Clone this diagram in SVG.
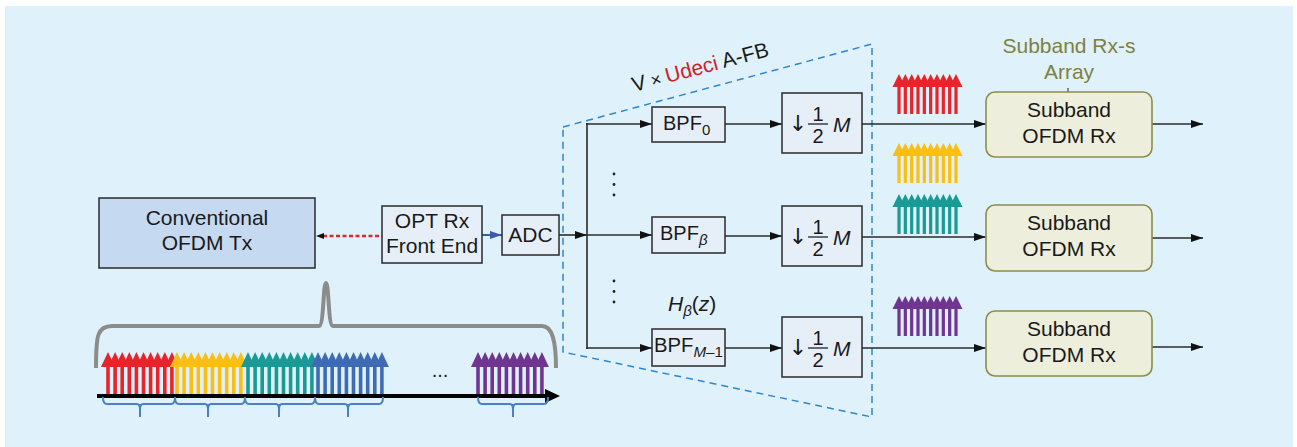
<svg xmlns="http://www.w3.org/2000/svg" xmlns:xlink="http://www.w3.org/1999/xlink" width="1297" height="447" viewBox="0 0 1297 447">
<style>
text{font-family:"Liberation Sans",Arial,sans-serif;fill:#1a1a1a}
.t{font-size:21px;text-anchor:middle}
.sub{font-size:15px}
.it{font-style:italic}
.dn{font-family:"DejaVu Sans",sans-serif;font-size:22px;text-anchor:middle}
.box{fill:#e6eff8;stroke:#2a2a2a;stroke-width:1.5}
.rx{fill:#eeeedc;stroke:#8c8c4c;stroke-width:1.6}
.ln{fill:none;stroke:#2a2a2a;stroke-width:1.6}
.ol{fill:#7f8040;font-size:21px;text-anchor:middle}
.br{fill:none;stroke:#4a80c8;stroke-width:2}
</style>
<defs>
<marker id="ah" markerUnits="userSpaceOnUse" markerWidth="12" markerHeight="8" refX="12" refY="4" orient="auto"><path d="M0,0 L12,4 L0,8 z" fill="#111"/></marker>
<marker id="ahb" markerUnits="userSpaceOnUse" markerWidth="12" markerHeight="8" refX="12" refY="4" orient="auto"><path d="M0,0 L12,4 L0,8 z" fill="#3a5dab"/></marker>
<g id="aR"><polygon points="-6.5,13 0,0 6.5,13"/><rect x="-1.6" y="11" width="3.2" height="29"/></g>
<g id="aL"><polygon points="-7,15 0,0 7,15"/><rect x="-1.8" y="13" width="3.6" height="31"/></g>
<g id="combR">
<use xlink:href="#aR" x="0"/><use xlink:href="#aR" x="6.33"/><use xlink:href="#aR" x="12.67"/><use xlink:href="#aR" x="19"/><use xlink:href="#aR" x="25.33"/><use xlink:href="#aR" x="31.67"/><use xlink:href="#aR" x="38"/><use xlink:href="#aR" x="44.33"/><use xlink:href="#aR" x="50.67"/><use xlink:href="#aR" x="57"/>
</g>
<g id="combL">
<use xlink:href="#aL" x="0"/><use xlink:href="#aL" x="7.1"/><use xlink:href="#aL" x="14.2"/><use xlink:href="#aL" x="21.3"/><use xlink:href="#aL" x="28.4"/><use xlink:href="#aL" x="35.5"/><use xlink:href="#aL" x="42.6"/><use xlink:href="#aL" x="49.7"/><use xlink:href="#aL" x="56.8"/><use xlink:href="#aL" x="63.9"/>
</g>
</defs>
<rect x="5" y="6" width="1288" height="441" fill="#dff2fb"/>

<!-- filter bank dashed outline -->
<g id="afb">
<path d="M563,127 L872,44 L872,417 L563,352 Z" fill="none" stroke="#2f86cc" stroke-width="1.5" stroke-dasharray="7,5"/>
<text x="634" y="92" font-size="21" transform="rotate(-14.9 634 92)">V<tspan font-size="18"> × </tspan><tspan fill="#d0202a">Udeci</tspan> A-FB</text>
</g>

<!-- connectors -->
<g id="connectors">
<line x1="323" y1="236" x2="382" y2="236" stroke="#e0262b" stroke-width="2.5" stroke-dasharray="4,2.5"/>
<polygon points="316,236 324,233 324,239" fill="#111"/>
<line x1="482" y1="235" x2="502" y2="235" stroke="#3a5dab" stroke-width="2" marker-end="url(#ahb)"/>
<line class="ln" x1="559" y1="235" x2="587" y2="235" marker-end="url(#ah)"/>
<line class="ln" x1="587" y1="235" x2="652" y2="235" marker-end="url(#ah)"/>
<line class="ln" x1="587" y1="123" x2="587" y2="349"/>
<line class="ln" x1="586" y1="124" x2="652" y2="124" marker-end="url(#ah)"/>
<line class="ln" x1="586" y1="348" x2="652" y2="348" marker-end="url(#ah)"/>
<line class="ln" x1="725" y1="124" x2="782" y2="124" marker-end="url(#ah)"/>
<line class="ln" x1="725" y1="236" x2="782" y2="236" marker-end="url(#ah)"/>
<line class="ln" x1="725" y1="348" x2="782" y2="348" marker-end="url(#ah)"/>
<line class="ln" x1="862" y1="124" x2="986" y2="124" marker-end="url(#ah)"/>
<line class="ln" x1="862" y1="237" x2="986" y2="237" marker-end="url(#ah)"/>
<line class="ln" x1="862" y1="348" x2="986" y2="348" marker-end="url(#ah)"/>
<line class="ln" x1="1152" y1="124" x2="1203" y2="124" marker-end="url(#ah)"/>
<line class="ln" x1="1152" y1="238" x2="1203" y2="238" marker-end="url(#ah)"/>
<line class="ln" x1="1152" y1="347" x2="1203" y2="347" marker-end="url(#ah)"/>
<line x1="1068" y1="88" x2="1068" y2="92" stroke="#222" stroke-width="1"/>
</g>

<g id="tx">
<rect x="99" y="198" width="216" height="70" fill="#c5d9f0" stroke="#2a2a2a" stroke-width="1.5"/>
<text class="t" x="207" y="225">Conventional</text>
<text class="t" x="207" y="250">OFDM Tx</text>
</g>
<g id="optrx">
<rect class="box" x="382" y="206" width="100" height="57"/>
<text class="t" x="432" y="228">OPT Rx</text>
<text class="t" x="432" y="253">Front End</text>
</g>
<g id="adc">
<rect class="box" x="502" y="215" width="57" height="40"/>
<text class="t" x="530.5" y="242">ADC</text>
</g>

<g id="bpf0">
<rect class="box" x="652" y="107" width="73" height="35"/>
<text x="663" y="130" font-size="20">BPF<tspan class="sub" dy="5">0</tspan></text>
</g>
<g id="bpfb">
<rect class="box" x="652" y="217" width="73" height="36"/>
<text x="660" y="240" font-size="20">BPF<tspan class="sub it" dy="5">β</tspan></text>
</g>
<g id="bpfm">
<rect class="box" x="652" y="329" width="73" height="37"/>
<text x="654" y="352" font-size="20" textLength="69" lengthAdjust="spacingAndGlyphs">BPF<tspan class="sub it" dy="5">M</tspan><tspan class="sub" dy="0">–1</tspan></text>
</g>
<text x="668" y="311" font-size="21" class="it">H<tspan class="sub" dy="5">β</tspan><tspan dy="-5" font-style="normal">(</tspan>z<tspan font-style="normal">)</tspan></text>

<g id="dec0">
<rect class="box" x="782" y="93" width="80" height="60"/>
<text class="dn" x="798" y="131">↓</text>
<text x="818" y="121" font-size="20" text-anchor="middle">1</text>
<line x1="808" y1="124" x2="828" y2="124" stroke="#222" stroke-width="1.3"/>
<text x="818" y="143" font-size="20" text-anchor="middle">2</text>
<text x="833" y="132" font-size="21" class="it">M</text>
</g>
<g id="dec1">
<rect class="box" x="782" y="206" width="80" height="60"/>
<text class="dn" x="798" y="244">↓</text>
<text x="818" y="234" font-size="20" text-anchor="middle">1</text>
<line x1="808" y1="237" x2="828" y2="237" stroke="#222" stroke-width="1.3"/>
<text x="818" y="256" font-size="20" text-anchor="middle">2</text>
<text x="833" y="245" font-size="21" class="it">M</text>
</g>
<g id="dec2">
<rect class="box" x="782" y="317" width="80" height="60"/>
<text class="dn" x="798" y="355">↓</text>
<text x="818" y="345" font-size="20" text-anchor="middle">1</text>
<line x1="808" y1="348" x2="828" y2="348" stroke="#222" stroke-width="1.3"/>
<text x="818" y="367" font-size="20" text-anchor="middle">2</text>
<text x="833" y="356" font-size="21" class="it">M</text>
</g>

<g id="dots" fill="#222">
<circle cx="614" cy="174" r="1.4"/><circle cx="614" cy="184.5" r="1.4"/><circle cx="614" cy="195" r="1.4"/>
<circle cx="614" cy="281" r="1.4"/><circle cx="614" cy="291.5" r="1.4"/><circle cx="614" cy="302" r="1.4"/>
</g>

<g id="rxarray">
<text class="ol" x="1069" y="53">Subband Rx-s</text>
<text class="ol" x="1069" y="79">Array</text>
</g>
<g id="rx0">
<rect class="rx" x="986" y="92" width="166" height="65" rx="9"/>
<text class="t" x="1069" y="117">Subband</text>
<text class="t" x="1069" y="143">OFDM Rx</text>
</g>
<g id="rx1">
<rect class="rx" x="986" y="205" width="166" height="66" rx="9"/>
<text class="t" x="1069" y="230">Subband</text>
<text class="t" x="1069" y="256">OFDM Rx</text>
</g>
<g id="rx2">
<rect class="rx" x="986" y="311" width="166" height="65" rx="9"/>
<text class="t" x="1069" y="336">Subband</text>
<text class="t" x="1069" y="362">OFDM Rx</text>
</g>

<g id="subbands">
<use xlink:href="#combR" x="899" y="74" fill="#e8232a"/>
<use xlink:href="#combR" x="899" y="143" fill="#fbbf14"/>
<use xlink:href="#combR" x="899" y="194" fill="#1a9a96"/>
<use xlink:href="#combR" x="899" y="296" fill="#6f3591"/>
</g>

<g id="spectrum">
<path d="M96,368 C96,336 97,326 112,326 L319,326 C324,326 323,283 326,283 C329,283 328,326 333,326 L542,326 C552,326 556,340 556,368" fill="none" stroke="#8c8c8c" stroke-width="4"/>
<use xlink:href="#combL" x="108" y="352" fill="#e8232a"/>
<use xlink:href="#combL" x="177" y="352" fill="#fbbf14"/>
<use xlink:href="#combL" x="248" y="352" fill="#1a9a96"/>
<use xlink:href="#combL" x="318" y="352" fill="#3f6bb5"/>
<use xlink:href="#combL" x="478" y="352" fill="#6f3591"/>
<line x1="97" y1="396" x2="548" y2="396" stroke="#000" stroke-width="4"/>
<polygon points="545,389 560,396 545,403" fill="#000"/>
<text x="440" y="377" font-size="20" text-anchor="middle">...</text>
<path class="br" d="M103,397 Q103,404 107,404 H137 Q140,404 140,410 Q140,404 143,404 H171 Q175,404 175,397 M140,404 V417"/>
<path class="br" d="M175,397 Q175,404 179,404 H205 Q208,404 208,410 Q208,404 211,404 H241 Q245,404 245,397 M208,404 V417"/>
<path class="br" d="M245,397 Q245,404 249,404 H276 Q279,404 279,410 Q279,404 282,404 H311 Q315,404 315,397 M279,404 V417"/>
<path class="br" d="M315,397 Q315,404 319,404 H345 Q348,404 348,410 Q348,404 351,404 H379 Q383,404 383,397 M348,404 V417"/>
<path class="br" d="M478,397 Q478,404 482,404 H510 Q513,404 513,410 Q513,404 516,404 H544 Q548,404 548,397 M513,404 V417"/>
</g>
</svg>
